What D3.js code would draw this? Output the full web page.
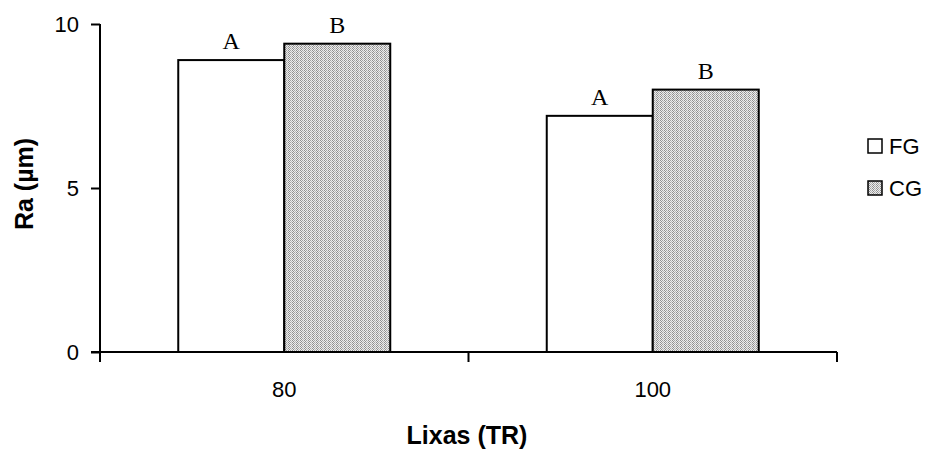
<!DOCTYPE html>
<html><head><meta charset="utf-8">
<script src="https://cdn.jsdelivr.net/npm/d3@7"></script>
<style>body{margin:0;background:#fff}</style>
</head><body>
<svg id="c" width="932" height="450"></svg>
<script>
const categories = ["80", "100"];
const seriesNames = ["FG", "CG"];
const fgValues = [8.9, 7.2];
const cgValues = [9.4, 8.0];
const letters = ["A", "B"];
const yTicks = [0, 5, 10];

(function () {
const svg = d3.select("#c");
const defs = svg.append("defs");
const pat = defs.append("pattern").attr("id","dots").attr("patternUnits","userSpaceOnUse")
  .attr("width",4).attr("height",2);
pat.append("rect").attr("width",4).attr("height",2).attr("fill","#ececec");
pat.append("rect").attr("x",0).attr("y",0).attr("width",1).attr("height",1).attr("fill","#8e8e8e");
pat.append("rect").attr("x",1).attr("y",1).attr("width",1).attr("height",1).attr("fill","#8e8e8e");
pat.append("rect").attr("x",2).attr("y",0).attr("width",1).attr("height",1).attr("fill","#a4a4a4");
pat.append("rect").attr("x",3).attr("y",1).attr("width",1).attr("height",1).attr("fill","#b8b8b8");

const mLeft = 100, mRight = 837, mTop = 24, mBottom = 352;
const x = d3.scaleBand().domain(categories).range([mLeft, mRight]);
const sub = d3.scaleBand().domain(seriesNames).range([0, 212]);
const y = d3.scaleLinear().domain([0, 10]).range([mBottom, mTop]);
const fills = {FG: "#ffffff", CG: "url(#dots)"};
const data = categories.map((c, i) => ({cat: c, vals: [{s: "FG", v: fgValues[i]}, {s: "CG", v: cgValues[i]}]}));

const g = svg.append("g");
data.forEach(d => {
  const x0 = x(d.cat) + (x.bandwidth() - 212) / 2;
  d.vals.forEach((e, j) => {
    g.append("rect").attr("x", x0 + sub(e.s)).attr("y", y(e.v))
      .attr("width", sub.bandwidth()).attr("height", mBottom - y(e.v))
      .attr("fill", fills[e.s]).attr("stroke", "#000").attr("stroke-width", 2);
    g.append("text").attr("x", x0 + sub(e.s) + sub.bandwidth() / 2).attr("y", y(e.v) - 11)
      .attr("text-anchor", "middle").attr("font-family", "Liberation Serif, Times New Roman, serif")
      .attr("font-size", 24).text(letters[j]);
  });
});

const yAxis = d3.axisLeft(y).tickValues(yTicks).tickSize(9).tickPadding(12);
const ya = svg.append("g").attr("transform", `translate(${mLeft},0)`).call(yAxis);
ya.select(".domain").remove();
ya.selectAll(".tick line").attr("stroke", "#000").attr("stroke-width", 2);
ya.selectAll("text").attr("font-family", "Liberation Sans, Arial, sans-serif").attr("font-size", 22).attr("fill", "#000");
svg.append("line").attr("x1", mLeft).attr("x2", mLeft).attr("y1", mTop).attr("y2", mBottom + 10)
  .attr("stroke", "#000").attr("stroke-width", 2);

svg.append("line").attr("x1", mLeft - 9).attr("x2", mRight).attr("y1", mBottom).attr("y2", mBottom)
  .attr("stroke", "#000").attr("stroke-width", 2);
const bounds = [mLeft].concat(categories.map(c => x(c) + x.bandwidth()));
svg.selectAll(".xt").data(bounds).enter().append("line")
  .attr("x1", d => d).attr("x2", d => d).attr("y1", mBottom).attr("y2", mBottom + 10)
  .attr("stroke", "#000").attr("stroke-width", 2);
svg.selectAll(".xl").data(categories).enter().append("text")
  .attr("x", d => x(d) + x.bandwidth() / 2).attr("y", 397)
  .attr("text-anchor", "middle").attr("font-family", "Liberation Sans, Arial, sans-serif")
  .attr("font-size", 22).text(d => d);

svg.append("text").attr("x", 467).attr("y", 444).attr("text-anchor", "middle")
  .attr("font-family", "Liberation Sans, Arial, sans-serif").attr("font-weight", "bold")
  .attr("font-size", 25).text("Lixas (TR)");
svg.append("text").attr("transform", "translate(33,184) rotate(-90)").attr("text-anchor", "middle")
  .attr("font-family", "Liberation Sans, Arial, sans-serif").attr("font-weight", "bold")
  .attr("font-size", 25).text("Ra (µm)");

const lg = svg.append("g");
seriesNames.forEach((s, i) => {
  const cy = 146 + i * 42;
  lg.append("rect").attr("x", 868).attr("y", cy - 7).attr("width", 14).attr("height", 14)
    .attr("fill", fills[s]).attr("stroke", "#000").attr("stroke-width", 1.5);
  lg.append("text").attr("x", 889).attr("y", cy + 8).attr("font-family", "Liberation Sans, Arial, sans-serif")
    .attr("font-size", 22).text(s);
});
})();
</script>
</body></html>
